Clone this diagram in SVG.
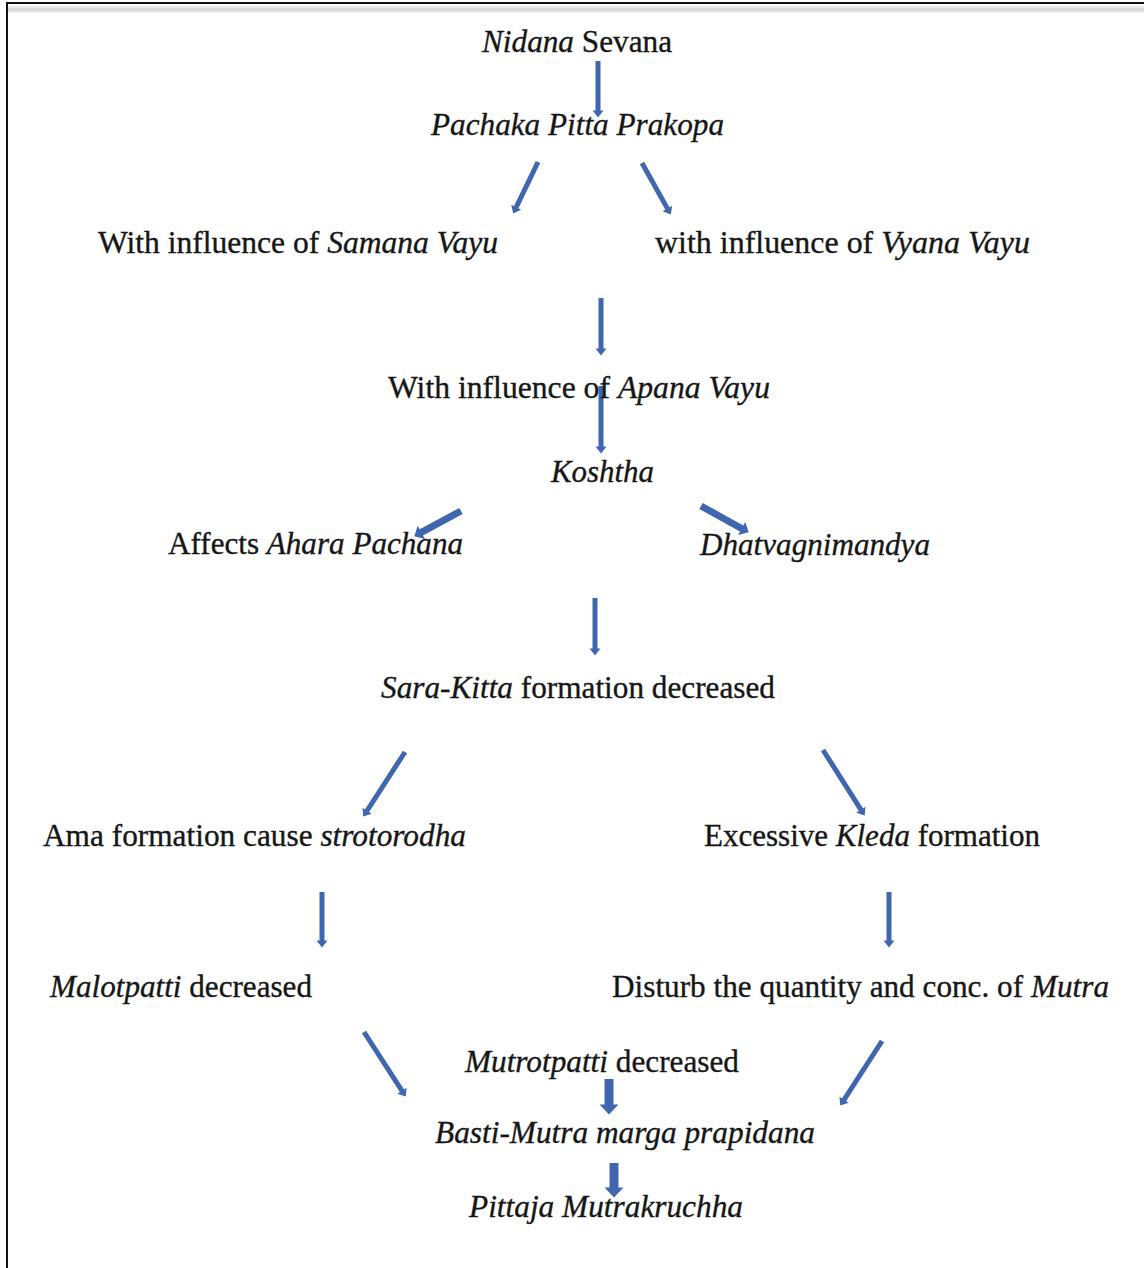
<svg xmlns="http://www.w3.org/2000/svg" width="1144" height="1268" viewBox="0 0 1144 1268">
<defs>
<style>
text{font-family:"Liberation Serif","Times New Roman",serif;font-size:32px;fill:#161616;stroke:#161616;stroke-width:0.35}
.i{font-style:italic}
.a{stroke:#3F66AE;fill:none;stroke-linecap:butt}
.thin{stroke-width:5;marker-end:url(#hThin)}
.mid{stroke-width:7;marker-end:url(#hMid)}
.blk{stroke-width:9;marker-end:url(#hBlk)}
</style>
<marker id="hThin" markerUnits="userSpaceOnUse" markerWidth="8" markerHeight="11" refX="0.5" refY="5.5" orient="auto" overflow="visible"><path d="M0,0 L7,5.5 L0,11 z" fill="#3F66AE"/></marker>
<marker id="hMid" markerUnits="userSpaceOnUse" markerWidth="10" markerHeight="15" refX="0.5" refY="7.5" orient="auto" overflow="visible"><path d="M0,0 L8,7.5 L0,15 z" fill="#3F66AE"/></marker>
<marker id="hBlk" markerUnits="userSpaceOnUse" markerWidth="11" markerHeight="19" refX="0.5" refY="9.5" orient="auto" overflow="visible"><path d="M0,0 L10,9.5 L0,19 z" fill="#3F66AE"/></marker>
<linearGradient id="band" x1="0" y1="0" x2="0" y2="1"><stop offset="0" stop-color="#f2f2f2"/><stop offset="0.5" stop-color="#d6d6d6"/><stop offset="1" stop-color="#f4f4f4"/></linearGradient>
</defs>
<rect width="1144" height="1268" fill="#fff"/>
<g id="frame">
<rect x="8" y="6" width="1136" height="7" fill="url(#band)"/>
<line x1="6" y1="3" x2="1144" y2="3" stroke="#111" stroke-width="2"/>
<line x1="7" y1="2" x2="7" y2="1268" stroke="#111" stroke-width="2"/>
</g>
<g id="connectors">
<line class="a thin" x1="598" y1="61" x2="598" y2="111"/>
<line class="a thin" x1="538" y1="162" x2="516" y2="207.7"/>
<line class="a thin" x1="642" y1="163" x2="667.6" y2="208.9"/>
<line class="a thin" x1="601" y1="298" x2="601" y2="349"/>
<line class="a thin" x1="601" y1="386" x2="601" y2="447"/>
<line class="a mid" x1="461" y1="511" x2="420.9" y2="532.7"/>
<line class="a mid" x1="701" y1="506" x2="742.1" y2="528.7"/>
<line class="a thin" x1="595" y1="598" x2="595" y2="649"/>
<line class="a thin" x1="405" y1="752" x2="366.8" y2="811.1"/>
<line class="a thin" x1="823" y1="750" x2="861.2" y2="810.1"/>
<line class="a thin" x1="322" y1="892" x2="322" y2="941"/>
<line class="a thin" x1="889" y1="892" x2="889" y2="941"/>
<line class="a thin" x1="364" y1="1032" x2="402.2" y2="1091.1"/>
<line class="a thin" x1="882" y1="1041" x2="843.8" y2="1100.1"/>
<line class="a blk" x1="609" y1="1079" x2="609" y2="1105"/>
<line class="a blk" x1="614" y1="1163" x2="614" y2="1188"/>
</g>
<g id="n1"><text x="482" y="52" textLength="190" lengthAdjust="spacingAndGlyphs"><tspan class="i">Nidana</tspan> Sevana</text></g>
<g id="n2"><text class="i" x="431" y="135" textLength="293" lengthAdjust="spacingAndGlyphs">Pachaka Pitta Prakopa</text></g>
<g id="n3"><text x="98" y="253" textLength="400" lengthAdjust="spacingAndGlyphs">With influence of <tspan class="i">Samana Vayu</tspan></text></g>
<g id="n4"><text x="655" y="253" textLength="375" lengthAdjust="spacingAndGlyphs">with influence of <tspan class="i">Vyana Vayu</tspan></text></g>
<g id="n5"><text x="388" y="398" textLength="382" lengthAdjust="spacingAndGlyphs">With influence of <tspan class="i">Apana Vayu</tspan></text></g>
<g id="n6"><text class="i" x="551" y="482" textLength="103" lengthAdjust="spacingAndGlyphs">Koshtha</text></g>
<g id="n7"><text x="168" y="554" textLength="295" lengthAdjust="spacingAndGlyphs">Affects <tspan class="i">Ahara Pachana</tspan></text></g>
<g id="n8"><text class="i" x="700" y="555" textLength="230" lengthAdjust="spacingAndGlyphs">Dhatvagnimandya</text></g>
<g id="n9"><text x="381" y="698" textLength="394" lengthAdjust="spacingAndGlyphs"><tspan class="i">Sara-Kitta</tspan> formation decreased</text></g>
<g id="n10"><text x="43" y="846" textLength="423" lengthAdjust="spacingAndGlyphs">Ama formation cause <tspan class="i">strotorodha</tspan></text></g>
<g id="n11"><text x="704" y="846" textLength="336" lengthAdjust="spacingAndGlyphs">Excessive <tspan class="i">Kleda</tspan> formation</text></g>
<g id="n12"><text x="50" y="997" textLength="262" lengthAdjust="spacingAndGlyphs"><tspan class="i">Malotpatti</tspan> decreased</text></g>
<g id="n13"><text x="612" y="997" textLength="497" lengthAdjust="spacingAndGlyphs">Disturb the quantity and conc. of <tspan class="i">Mutra</tspan></text></g>
<g id="n14"><text x="465" y="1072" textLength="274" lengthAdjust="spacingAndGlyphs"><tspan class="i">Mutrotpatti</tspan> decreased</text></g>
<g id="n15"><text class="i" x="435" y="1143" textLength="380" lengthAdjust="spacingAndGlyphs">Basti-Mutra marga prapidana</text></g>
<g id="n16"><text class="i" x="469" y="1217" textLength="274" lengthAdjust="spacingAndGlyphs">Pittaja Mutrakruchha</text></g>
</svg>
